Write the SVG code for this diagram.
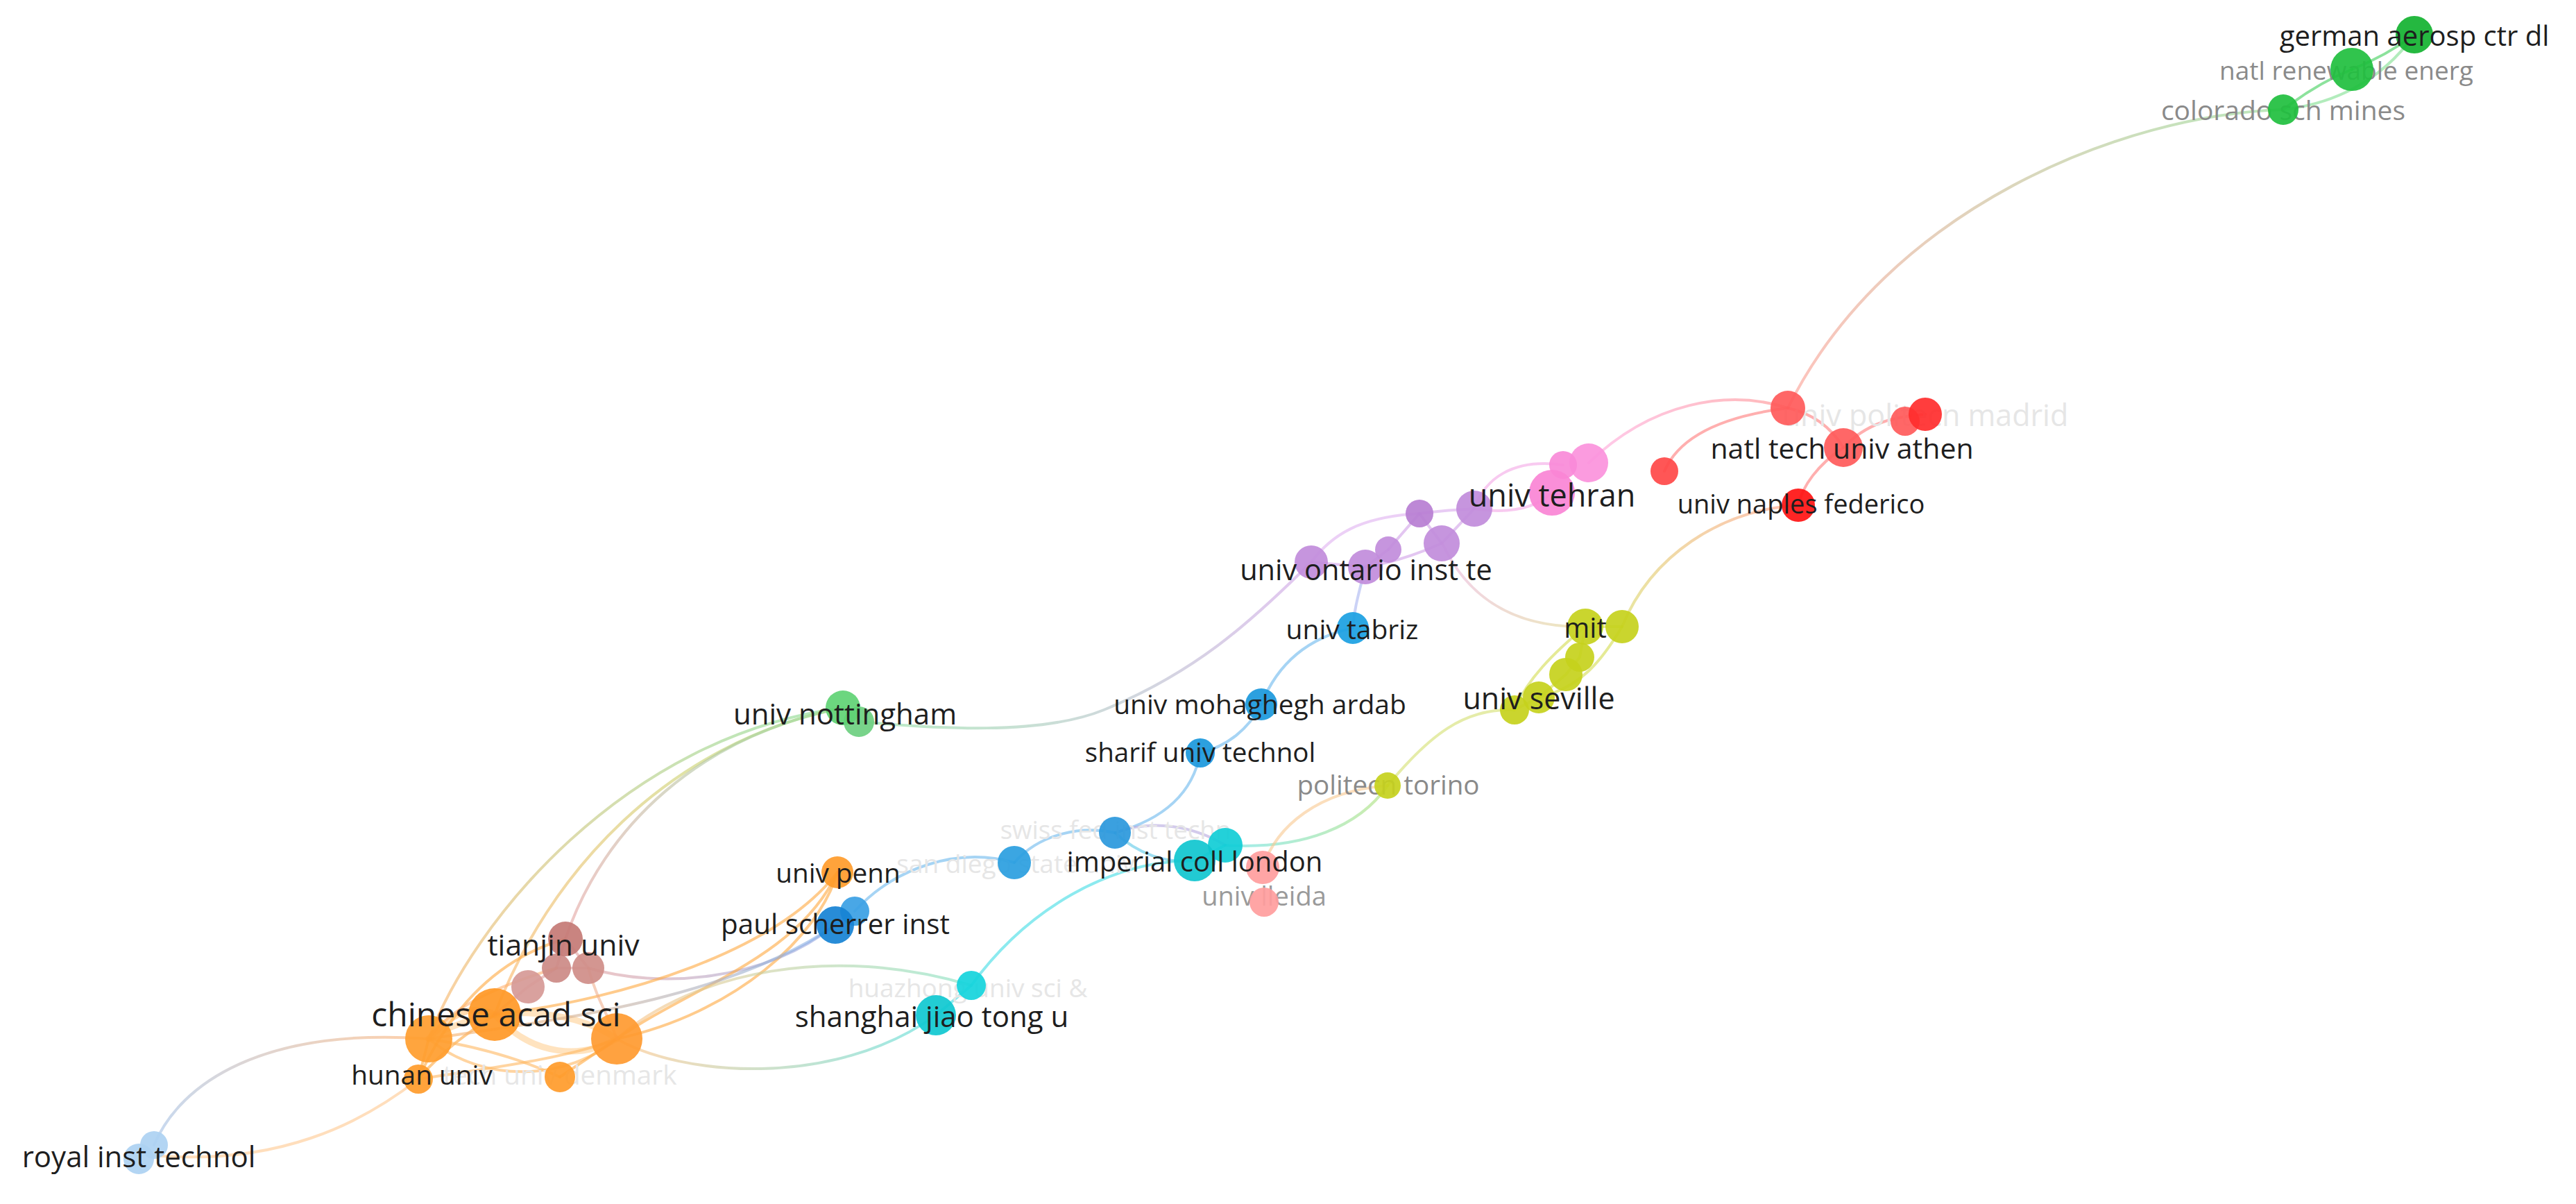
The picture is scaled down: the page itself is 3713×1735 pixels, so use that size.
<svg xmlns="http://www.w3.org/2000/svg" width="3713" height="1735" viewBox="0 0 3713 1735">
<defs>
<style>
.lk{fill:none;stroke-linecap:round;stroke-width:4;opacity:.6}
.th{stroke-width:9;opacity:.45}
.n{opacity:.92}
.lb{font-family:"Open Sans","Noto Sans","DejaVu Sans",sans-serif;text-anchor:middle;dominant-baseline:central;fill:#1e1e1e}
.gr{fill:#8a8a8a}
.fa{fill:#e6e6e6}
.green{fill:#1fbf3e}.red{fill:#ff5a5a}.pink{fill:#f98ad8}.purple{fill:#c18cdb}.blue{fill:#1e9ce0}
.yel{fill:#c6d11c}.cyan{fill:#10cdd6}.salmon{fill:#ff9d9d}.orange{fill:#ff9b2a}.rose{fill:#cc8580}
.lblue{fill:#acd1f2}.lgreen{fill:#5fd274}
</style>
<linearGradient id="gColRed" gradientUnits="userSpaceOnUse" x1="3291" y1="158" x2="2577" y2="588"><stop offset="0" stop-color="#8fd88f"/><stop offset="1" stop-color="#ff9a90"/></linearGradient>
<linearGradient id="gTehRed" gradientUnits="userSpaceOnUse" x1="2290" y1="667" x2="2577" y2="588"><stop offset="0" stop-color="#ffa8e0"/><stop offset="1" stop-color="#ff8a8a"/></linearGradient>
<linearGradient id="gNapMit" gradientUnits="userSpaceOnUse" x1="2592" y1="728" x2="2338" y2="903"><stop offset="0" stop-color="#ff9a80"/><stop offset="1" stop-color="#d8d860"/></linearGradient>
<linearGradient id="gPurMit" gradientUnits="userSpaceOnUse" x1="2079" y1="783" x2="2285" y2="903"><stop offset="0" stop-color="#eab0e0"/><stop offset="1" stop-color="#e0d890"/></linearGradient>
<linearGradient id="gPurNot" gradientUnits="userSpaceOnUse" x1="1890" y1="810" x2="1238" y2="1040"><stop offset="0" stop-color="#d0a0e8"/><stop offset="1" stop-color="#8ee0a0"/></linearGradient>
<linearGradient id="gTjPaul" gradientUnits="userSpaceOnUse" x1="848" y1="1395" x2="1204" y2="1333"><stop offset="0" stop-color="#e0a0a0"/><stop offset="1" stop-color="#90a8e8"/></linearGradient>
<linearGradient id="gOrShang" gradientUnits="userSpaceOnUse" x1="889" y1="1497" x2="1349" y2="1463"><stop offset="0" stop-color="#ffc080"/><stop offset="1" stop-color="#50dcd8"/></linearGradient>
<linearGradient id="gOrNot" gradientUnits="userSpaceOnUse" x1="618" y1="1497" x2="1215" y2="1020"><stop offset="0" stop-color="#ffb060"/><stop offset="1" stop-color="#80dc90"/></linearGradient>
<linearGradient id="gChNot" gradientUnits="userSpaceOnUse" x1="713" y1="1462" x2="1215" y2="1020"><stop offset="0" stop-color="#ffb060"/><stop offset="1" stop-color="#b0e070"/></linearGradient>
<linearGradient id="gTjNot" gradientUnits="userSpaceOnUse" x1="815" y1="1353" x2="1215" y2="1020"><stop offset="0" stop-color="#e8a0a0"/><stop offset="1" stop-color="#90dca0"/></linearGradient>
<linearGradient id="gOrPaul" gradientUnits="userSpaceOnUse" x1="618" y1="1497" x2="1204" y2="1333"><stop offset="0" stop-color="#ffb060"/><stop offset="1" stop-color="#80b0f0"/></linearGradient>
<linearGradient id="gOrHz" gradientUnits="userSpaceOnUse" x1="889" y1="1497" x2="1400" y2="1420"><stop offset="0" stop-color="#ffc080"/><stop offset="1" stop-color="#80e0c0"/></linearGradient>
<linearGradient id="gRoyOr" gradientUnits="userSpaceOnUse" x1="222" y1="1650" x2="618" y2="1497"><stop offset="0" stop-color="#a0c0e8"/><stop offset="1" stop-color="#ffb070"/></linearGradient>
<linearGradient id="gCyTor" gradientUnits="userSpaceOnUse" x1="1766" y1="1218" x2="2000" y2="1132"><stop offset="0" stop-color="#60e0e0"/><stop offset="1" stop-color="#b0e070"/></linearGradient>
</defs>
<rect width="3713" height="1735" fill="#ffffff"/>

<g id="connectors">
<!-- green cluster -->
<path class="lk" stroke="#3fcf5a" d="M3291,158 Q3340,120 3390,100"/>
<path class="lk" stroke="#3fcf5a" d="M3390,100 Q3440,80 3480,50"/>
<path class="lk" stroke="#7fe090" d="M3291,158 C3360,150 3430,120 3480,50"/>
<path class="lk" stroke="url(#gColRed)" stroke-width="3" d="M3291,158 C3060,165 2720,300 2577,588"/>
<!-- red cluster -->
<path class="lk" stroke="#ff7a7a" d="M2577,588 C2480,600 2420,630 2399,679"/>
<path class="lk" stroke="url(#gTehRed)" d="M2290,667 C2380,580 2490,560 2577,588"/>
<path class="lk" stroke="#ff7a7a" d="M2577,588 Q2630,600 2657,645"/>
<path class="lk" stroke="#ff7a7a" d="M2657,645 C2690,610 2730,600 2775,597"/>
<path class="lk" stroke="#ff7a7a" d="M2657,645 C2620,670 2598,700 2592,728"/>
<path class="lk" stroke="url(#gNapMit)" d="M2592,728 C2480,735 2380,800 2338,903"/>
<!-- pink / purple -->
<path class="lk" stroke="#f3a6e6" d="M2253,670 C2180,660 2140,690 2125,733"/>
<path class="lk" stroke="#d9a8ec" d="M2046,740 C2080,735 2100,735 2125,733"/>
<path class="lk" stroke="#f3a6e6" d="M2125,733 C2170,740 2210,735 2237,710"/>
<path class="lk" stroke="#d0a0e8" d="M2046,740 L2001,792"/>
<path class="lk" stroke="#d0a0e8" d="M2125,733 L2078,783"/>
<path class="lk" stroke="#d0a0e8" d="M2001,792 L1968,817"/>
<path class="lk" stroke="#d0a0e8" d="M2078,783 C2040,800 2000,812 1968,817"/>
<path class="lk" stroke="#d0a0e8" d="M2046,740 L2078,783"/>
<path class="lk" stroke="#d0a0e8" d="M1890,810 L1968,817"/>
<path class="lk" stroke="#e0b0f0" d="M2046,740 C1960,745 1920,770 1890,810"/>
<path class="lk" stroke="url(#gPurNot)" stroke-width="3" d="M1890,810 C1800,900 1720,970 1591,1023 C1500,1060 1350,1050 1238,1040"/>
<path class="lk" stroke="url(#gPurMit)" d="M2079,783 C2110,850 2170,905 2285,903"/>
<!-- blue -->
<path class="lk" stroke="#a8b4f0" d="M1968,817 C1960,850 1952,875 1950,905"/>
<path class="lk" stroke="#6ab8ec" d="M1950,905 C1880,920 1840,960 1818,1015"/>
<path class="lk" stroke="#6ab8ec" d="M1818,1015 C1800,1050 1770,1075 1730,1085"/>
<path class="lk" stroke="#6ab8ec" d="M1730,1085 C1720,1140 1680,1180 1607,1200"/>
<path class="lk" stroke="#6ab8ec" d="M1607,1200 C1560,1190 1500,1200 1462,1243"/>
<path class="lk" stroke="#6ab8ec" d="M1462,1243 C1380,1220 1290,1250 1232,1313"/>
<path class="lk" stroke="#b6a8e0" d="M1607,1200 C1660,1180 1720,1190 1766,1218"/>
<path class="lk" stroke="#5cc8e8" d="M1607,1200 C1640,1230 1680,1245 1722,1240"/>
<path class="lk" stroke="url(#gTjPaul)" d="M848,1395 C950,1425 1100,1415 1204,1333"/>
<!-- cyan -->
<path class="lk" stroke="#40dce4" d="M1766,1218 L1722,1240"/>
<path class="lk" stroke="#40dce4" d="M1722,1240 C1600,1240 1480,1310 1400,1420"/>
<path class="lk" stroke="#40dce4" d="M1400,1420 L1349,1463"/>
<path class="lk" stroke="url(#gOrShang)" d="M889,1497 C980,1550 1200,1570 1349,1463"/>
<path class="lk" stroke="url(#gCyTor)" d="M1766,1218 C1880,1225 1960,1190 2000,1132"/>
<path class="lk" stroke="#f8c890" d="M1820,1250 C1840,1190 1900,1140 2000,1132"/>
<path class="lk" stroke="#d4e070" d="M2000,1132 C2060,1060 2110,1020 2183,1023"/>
<!-- mit -->
<path class="lk" stroke="#d4dc50" d="M2285,903 C2240,940 2200,980 2183,1023"/>
<path class="lk" stroke="#d4dc50" d="M2338,903 C2310,950 2280,990 2218,1005"/>
<path class="lk" stroke="#d4dc50" stroke-width="6" d="M2285,903 L2277,947 L2257,972 L2218,1005 L2183,1023"/>
<path class="lk" stroke="#d4dc50" d="M2285,903 L2338,903"/>
<!-- nottingham -->
<path class="lk" stroke="#70d888" d="M1215,1020 L1238,1040"/>
<path class="lk" stroke="url(#gOrNot)" d="M618,1497 C680,1330 900,1060 1215,1020"/>
<path class="lk" stroke="url(#gChNot)" d="M713,1462 C790,1260 960,1070 1215,1020"/>
<path class="lk" stroke="url(#gTjNot)" stroke-width="3" d="M815,1353 C870,1190 1010,1060 1215,1020"/>
<!-- orange cluster -->
<path class="lk th" stroke="#ffb050" d="M618,1497 C660,1450 690,1450 713,1462"/>
<path class="lk th" stroke="#ffc070" d="M713,1462 C770,1525 840,1525 889,1497"/>
<path class="lk th" stroke="#ffc070" d="M618,1497 C700,1445 820,1450 889,1497"/>
<path class="lk" stroke="#ffb860" stroke-width="6" d="M618,1497 C700,1565 820,1555 889,1497"/>
<path class="lk" stroke="#ffa840" d="M603,1555 L618,1497"/>
<path class="lk" stroke="#ffa840" d="M603,1555 C650,1500 690,1480 713,1462"/>
<path class="lk" stroke="#ffb860" stroke-width="6" d="M603,1555 C700,1540 820,1525 889,1497"/>
<path class="lk" stroke="#ffa840" d="M807,1552 L889,1497"/>
<path class="lk" stroke="#ffb860" d="M807,1552 C760,1530 700,1510 618,1497"/>
<path class="lk" stroke="#ffa840" d="M603,1555 C650,1450 720,1380 815,1353"/>
<path class="lk" stroke="#ffa840" stroke-width="5" d="M889,1497 C1000,1420 1150,1380 1207,1257"/>
<path class="lk" stroke="#ffa840" stroke-width="5" d="M889,1497 C1060,1460 1180,1350 1207,1257"/>
<path class="lk" stroke="#ffa840" stroke-width="4" d="M713,1462 C900,1440 1120,1370 1207,1257"/>
<path class="lk" stroke="url(#gOrPaul)" d="M618,1497 C800,1470 1050,1440 1204,1333"/>
<path class="lk" stroke="url(#gOrHz)" d="M889,1497 C1000,1400 1200,1360 1400,1420"/>
<path class="lk" stroke="#e0a0a0" d="M815,1353 L802,1395 L848,1395 Z"/>
<path class="lk" stroke="#e0a0a0" d="M802,1395 L761,1422 L713,1462"/>
<path class="lk" stroke="#f0b090" d="M848,1395 C860,1440 880,1470 889,1497"/>
<path class="lk" stroke="#ffb070" d="M802,1395 C720,1420 650,1450 618,1497"/>
<path class="lk" stroke="url(#gRoyOr)" stroke-width="3" d="M222,1650 C260,1560 380,1480 618,1497"/>
<path class="lk" stroke="#ffc890" d="M222,1665 C400,1680 520,1620 603,1555"/>
</g>

<g id="nodes">
<!-- green top -->
<g id="node-natl-renewable-energ"><text class="lb gr" x="3382" y="100" font-size="37">natl renewable energ</text><circle class="n green" cx="3390" cy="100" r="31"/></g>
<g id="node-colorado-sch-mines"><text class="lb gr" x="3291" y="157" font-size="39">colorado sch mines</text><circle class="n green" cx="3291" cy="158" r="22"/></g>
<g id="node-german-aerosp-ctr-dl"><circle class="n" fill="#12b230" cx="3480" cy="50" r="27"/><text class="lb" x="3480" y="50" font-size="40">german aerosp ctr dl</text></g>
<!-- red -->
<g id="node-univ-politecn-madrid"><text class="lb fa" x="2775" y="597" font-size="43">univ politecn madrid</text><circle class="n red" cx="2746" cy="607" r="21"/><circle class="n" fill="#ff2c2c" cx="2775" cy="597" r="24"/></g>
<g id="node-red-a"><circle class="n red" cx="2577" cy="588" r="25"/></g>
<g id="node-red-e"><circle class="n" fill="#ff4848" cx="2399" cy="679" r="20"/></g>
<g id="node-natl-tech-univ-athen"><circle class="n red" cx="2657" cy="645" r="28"/><text class="lb" x="2655" y="645" font-size="41">natl tech univ athen</text></g>
<g id="node-univ-naples-federico"><circle class="n" fill="#ff1212" cx="2592" cy="728" r="24"/><text class="lb" x="2596" y="725" font-size="38">univ naples federico</text></g>
<!-- purple -->
<g id="node-purple-1"><circle class="n purple" cx="2125" cy="733" r="26"/></g>
<g id="node-purple-2"><circle class="n purple" cx="2078" cy="783" r="26"/></g>
<g id="node-purple-3"><circle class="n" fill="#b77ed3" cx="2046" cy="740" r="20"/></g>
<g id="node-purple-4"><circle class="n purple" cx="2001" cy="792" r="19"/></g>
<g id="node-purple-5"><circle class="n purple" cx="1890" cy="810" r="24"/></g>
<g id="node-univ-ontario-inst-te"><circle class="n purple" cx="1968" cy="817" r="25"/><text class="lb" x="1969" y="820" font-size="41.5">univ ontario inst te</text></g>
<!-- pink -->
<g id="node-pink-1"><circle class="n" fill="#fb92dc" cx="2290" cy="667" r="28"/></g>
<g id="node-pink-2"><circle class="n pink" cx="2253" cy="670" r="20"/></g>
<g id="node-univ-tehran"><circle class="n" fill="#fa84d5" cx="2237" cy="710" r="33"/><text class="lb" x="2237" y="712" font-size="45">univ tehran</text></g>
<!-- yellow -->
<g id="node-yel-2"><circle class="n yel" cx="2338" cy="903" r="24"/></g>
<g id="node-yel-3"><circle class="n yel" cx="2277" cy="947" r="21"/></g>
<g id="node-yel-4"><circle class="n yel" cx="2257" cy="972" r="24"/></g>
<g id="node-yel-6"><circle class="n yel" cx="2183" cy="1023" r="21"/></g>
<g id="node-mit"><circle class="n yel" cx="2285" cy="903" r="26"/><text class="lb" x="2285" y="903" font-size="40">mit</text></g>
<g id="node-univ-seville"><circle class="n yel" cx="2218" cy="1005" r="23"/><text class="lb" x="2218" y="1005" font-size="43">univ seville</text></g>
<g id="node-politecn-torino"><text class="lb gr" x="2001" y="1130" font-size="38.6">politecn torino</text><circle class="n yel" cx="2000" cy="1132" r="19"/></g>
<!-- blue -->
<g id="node-univ-tabriz"><circle class="n" fill="#1aa0e2" cx="1950" cy="905" r="23"/><text class="lb" x="1949" y="905" font-size="39">univ tabriz</text></g>
<g id="node-univ-mohaghegh-ardab"><circle class="n" fill="#1a98dc" cx="1818" cy="1015" r="23"/><text class="lb" x="1816" y="1013" font-size="39">univ mohaghegh ardab</text></g>
<g id="node-sharif-univ-technol"><circle class="n" fill="#1a98dc" cx="1730" cy="1085" r="21"/><text class="lb" x="1730" y="1083" font-size="38.6">sharif univ technol</text></g>
<g id="node-swiss-fed-inst-techn"><text class="lb fa" x="1608" y="1195" font-size="36.7">swiss fed inst techn</text><circle class="n" fill="#2a98dc" cx="1607" cy="1200" r="23"/></g>
<g id="node-san-diego-state-univ"><text class="lb fa" x="1464" y="1243" font-size="37">san diego state univ</text><circle class="n" fill="#2a9ee0" cx="1462" cy="1243" r="24"/></g>
<!-- salmon -->
<g id="node-salmon-1"><circle class="n salmon" cx="1820" cy="1250" r="24"/></g>
<g id="node-univ-lleida"><text class="lb" fill="#999" style="fill:#9a9a9a" x="1822" y="1290" font-size="38">univ lleida</text><circle class="n salmon" cx="1822" cy="1300" r="21"/></g>
<!-- cyan -->
<g id="node-cyan-1"><circle class="n cyan" cx="1766" cy="1218" r="25"/></g>
<g id="node-imperial-coll-london"><circle class="n" fill="#0fc6cf" cx="1722" cy="1240" r="30"/><text class="lb" x="1722" y="1240" font-size="40">imperial coll london</text></g>
<g id="node-huazhong-univ-sci"><text class="lb fa" x="1395" y="1422" font-size="37">huazhong univ sci &amp;</text><circle class="n" fill="#14d4dc" cx="1400" cy="1420" r="21"/></g>
<g id="node-shanghai-jiao-tong-u"><circle class="n" fill="#0fc8d0" cx="1349" cy="1463" r="29"/><text class="lb" x="1343" y="1463" font-size="42">shanghai jiao tong u</text></g>
<!-- nottingham -->
<g id="node-nott-2"><circle class="n" fill="#6ccf80" cx="1238" cy="1040" r="22"/></g>
<g id="node-univ-nottingham"><circle class="n lgreen" cx="1215" cy="1020" r="25"/><text class="lb" x="1218" y="1027" font-size="42">univ nottingham</text></g>
<!-- paul scherrer / penn -->
<g id="node-blue-ps2"><circle class="n" fill="#3aa0e4" cx="1232" cy="1313" r="21"/></g>
<g id="node-paul-scherrer-inst"><circle class="n" fill="#1682d4" cx="1204" cy="1333" r="27"/><text class="lb" x="1204" y="1330" font-size="40.4">paul scherrer inst</text></g>
<g id="node-univ-penn"><circle class="n orange" cx="1207" cy="1257" r="23"/><text class="lb" x="1208" y="1257" font-size="38.7">univ penn</text></g>
<!-- tianjin -->
<g id="node-tj-2"><circle class="n" fill="#cc8a85" cx="802" cy="1395" r="21"/></g>
<g id="node-tj-3"><circle class="n" fill="#cf8d88" cx="848" cy="1395" r="23"/></g>
<g id="node-tj-4"><circle class="n" fill="#d69996" cx="761" cy="1422" r="24"/></g>
<g id="node-tianjin-univ"><circle class="n" fill="#c47a75" cx="815" cy="1353" r="25"/><text class="lb" x="812" y="1360" font-size="42.7">tianjin univ</text></g>
<!-- orange -->
<g id="node-orange-left"><circle class="n" fill="#ff9d2e" cx="618" cy="1497" r="34"/></g>
<g id="node-orange-right"><circle class="n" fill="#ff9a30" cx="889" cy="1497" r="37"/></g>
<g id="node-chinese-acad-sci"><circle class="n" fill="#ff9826" cx="713" cy="1462" r="38"/><text class="lb" x="715" y="1460" font-size="48">chinese acad sci</text></g>
<g id="node-tech-univ-denmark"><text class="lb fa" x="807" y="1548" font-size="38.7">tech univ denmark</text><circle class="n orange" cx="807" cy="1552" r="22"/></g>
<g id="node-hunan-univ"><circle class="n orange" cx="603" cy="1555" r="21"/><text class="lb" x="608" y="1548" font-size="38.8">hunan univ</text></g>
<!-- royal -->
<g id="node-royal-inst-technol"><circle class="n lblue" cx="222" cy="1650" r="20"/><circle class="n lblue" cx="200" cy="1670" r="22"/><text class="lb" x="200" y="1665" font-size="42">royal inst technol</text></g>
</g>
</svg>
